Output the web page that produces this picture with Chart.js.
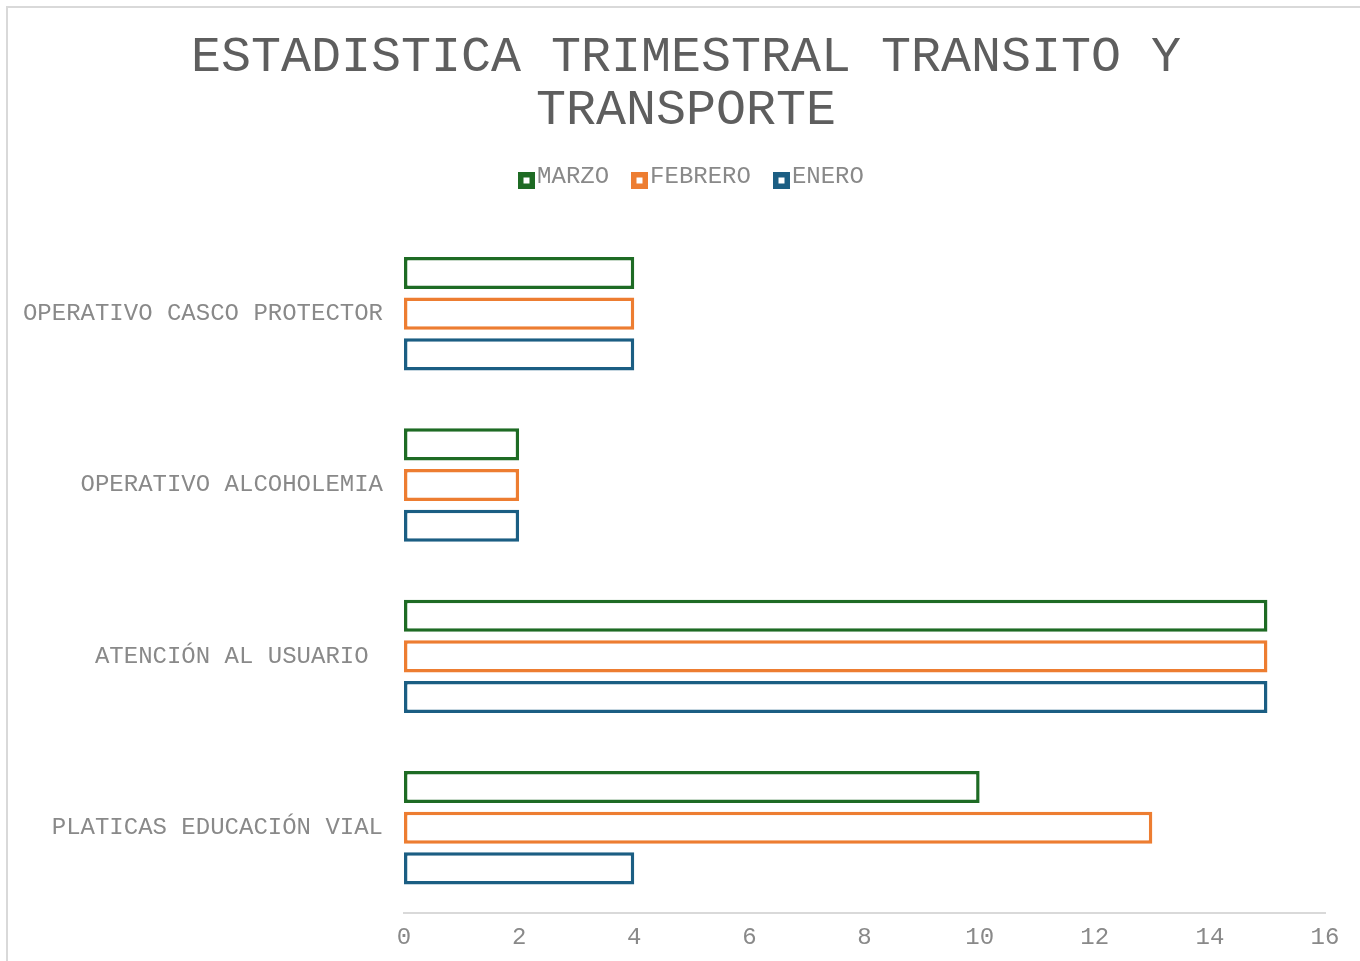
<!DOCTYPE html>
<html><head><meta charset="utf-8">
<script src="https://cdn.jsdelivr.net/npm/chart.js@4.4.0/dist/chart.umd.min.js"></script>
<style>html,body{margin:0;padding:0;background:#fff;overflow:hidden}</style>
</head><body><canvas id="c" width="1360" height="961"></canvas>
<script>
const categories = ['OPERATIVO CASCO PROTECTOR','OPERATIVO ALCOHOLEMIA','ATENCIÓN AL USUARIO ','PLATICAS EDUCACIÓN VIAL'];
const seriesNames = ['MARZO','FEBRERO','ENERO'];
const marzo = [4,2,15,10];
const febrero = [4,2,15,13];
const enero = [4,2,15,4];
const xTickMin = 0, xTickMax = 16, xTickStep = 2;
const titleLines = ['ESTADISTICA TRIMESTRAL TRANSITO Y','TRANSPORTE'];
const colors = ['#1e6b24','#ed7d31','#1b5e83'];

const FONT = "'Liberation Mono', 'Courier New', monospace";
const LABEL_COLOR = '#898989';

const frame = {
  id: 'frame',
  beforeDraw(chart) {
    const ctx = chart.ctx;
    ctx.save();
    ctx.strokeStyle = '#d9d9d9';
    ctx.lineWidth = 2;
    ctx.strokeRect(7, 7, 1420, 1020);
    ctx.restore();
  }
};

const customLegend = {
  id: 'customLegend',
  afterDraw(chart) {
    const ctx = chart.ctx;
    ctx.save();
    ctx.font = "24px " + FONT;
    const box = 17, gapText = 2, gapItem = 22;
    const items = chart.data.datasets.map(d => ({text: d.label, color: d.borderColor, w: ctx.measureText(d.label).width}));
    let total = 0;
    items.forEach((it, i) => { total += box + gapText + it.w + (i < items.length - 1 ? gapItem : 0); });
    const cx = (chart.titleBlock.left + chart.titleBlock.right) / 2 + 5;
    let x = cx - total / 2;
    const yc = chart.chartArea.top - 49;
    ctx.textBaseline = 'middle';
    ctx.textAlign = 'left';
    items.forEach(it => {
      const bx = Math.round(x), by = Math.round(yc - box / 2 + 1);
      ctx.fillStyle = it.color;
      ctx.fillRect(bx, by, box, box);
      ctx.fillStyle = '#ffffff';
      ctx.fillRect(bx + 5.5, by + 5.5, box - 11, box - 11);
      ctx.fillStyle = LABEL_COLOR;
      ctx.fillText(it.text, x + box + gapText, yc - 2);
      x += box + gapText + it.w + gapItem;
    });
    ctx.restore();
  }
};

const seriesData = [marzo, febrero, enero];
new Chart(document.getElementById('c'), {
  type: 'bar',
  data: {
    labels: categories,
    datasets: seriesNames.map((n, i) => ({
      label: n,
      data: seriesData[i],
      backgroundColor: '#ffffff',
      borderColor: colors[i],
      borderWidth: 3.5,
      borderSkipped: false,
      categoryPercentage: 0.712,
      barPercentage: 0.79
    }))
  },
  options: {
    indexAxis: 'y',
    responsive: false,
    devicePixelRatio: 1,
    animation: false,
    layout: { padding: { left: 12, right: 0, top: 0, bottom: 0 } },
    plugins: {
      legend: { display: false },
      tooltip: { enabled: false },
      title: {
        display: true,
        text: titleLines,
        color: '#5e5e5e',
        font: { family: FONT, size: 50, weight: 'normal', lineHeight: 1.06 },
        padding: { top: 31, bottom: 91 }
      }
    },
    scales: {
      x: {
        min: xTickMin, max: xTickMax,
        ticks: { stepSize: xTickStep, color: LABEL_COLOR, font: { family: FONT, size: 24, lineHeight: 0.9 }, padding: 13, maxRotation: 0 },
        grid: { display: false, drawTicks: false },
        border: { display: true, color: '#d9d9d9', width: 2 },
        afterFit(scale) { scale.paddingRight = 35; }
      },
      y: {
        ticks: { color: LABEL_COLOR, font: { family: FONT, size: 24 }, padding: 21 },
        grid: { display: false, drawTicks: false },
        border: { display: false },
        afterFit(scale) { scale.width = 392; }
      }
    }
  },
  plugins: [frame, customLegend]
});
</script></body></html>
